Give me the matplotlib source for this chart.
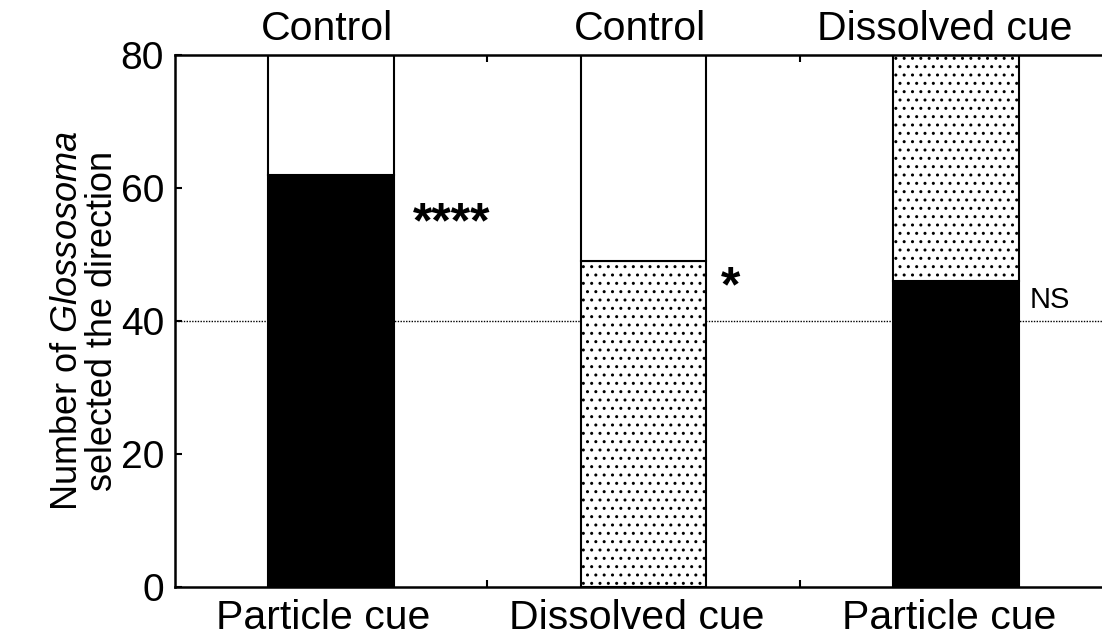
import matplotlib
matplotlib.use("Agg")
import matplotlib.pyplot as plt
import numpy as np

plt.rcParams['font.family'] = ['Liberation Sans', 'DejaVu Sans']
plt.rcParams['mathtext.fontset'] = 'custom'
plt.rcParams['mathtext.rm'] = 'Liberation Sans'
plt.rcParams['mathtext.it'] = 'Liberation Sans:italic'
plt.rcParams['hatch.linewidth'] = 1.0

bottom_labels = ["Particle cue", "Dissolved cue", "Particle cue"]
top_labels = ["Control", "Control", "Dissolved cue"]
lower_values = [62, 49, 46]
upper_values = [18, 31, 34]
lower_styles = ["black", "dots", "black"]
upper_styles = ["white", "white", "dots"]
significance = ["****", "*", "NS"]
sig_y = [54.6, 44.9, 43.2]
sig_x_offset = [0.387, 0.28, 0.30]
top_offset = [-0.012, -0.012, -0.035]
bottom_offset = [-0.025, -0.022, -0.02]
reference_line = 40

fig = plt.figure(figsize=(11.02, 6.36), dpi=100)
ax = fig.add_axes([175/1102, 49/636, 937/1102, 532/636])

x = np.arange(len(bottom_labels))
width = 0.403

def style(s):
    if s == "black":
        return dict(color="black", edgecolor="black")
    if s == "dots":
        return dict(color="white", edgecolor="black", hatch="..")
    return dict(color="white", edgecolor="black")

ax.axhline(reference_line, color="black", linestyle=(0, (1, 1)), linewidth=1.0, zorder=1)

for i in range(len(x)):
    ax.bar(x[i], lower_values[i], width, linewidth=1.5, zorder=2, **style(lower_styles[i]))
    ax.bar(x[i], upper_values[i], width, bottom=lower_values[i], linewidth=1.5, zorder=2,
           **style(upper_styles[i]))

ax.set_xlim(-0.5, 2.5)
ax.set_ylim(0, 80)
ax.set_yticks([0, 20, 40, 60, 80])
ax.set_xticks([0.5, 1.5])
ax.set_xticklabels([])
ax.tick_params(axis='both', direction='in', length=5, width=1.5, labelsize=28, top=True, right=False)
ax.tick_params(axis='y', pad=8)
for sp in ax.spines.values():
    sp.set_linewidth(1.8)
ax.spines['right'].set_visible(False)

for i in range(len(x)):
    ax.text(x[i] + bottom_offset[i], -0.022, bottom_labels[i], transform=ax.get_xaxis_transform(),
            ha='center', va='top', fontsize=29.5)
    ax.text(x[i] + top_offset[i], 1.014, top_labels[i], transform=ax.get_xaxis_transform(),
            ha='center', va='bottom', fontsize=29.5)

for i, s in enumerate(significance):
    if s == "NS":
        ax.text(x[i] + sig_x_offset[i], sig_y[i], s, ha='center', va='center', fontsize=21)
    else:
        ax.text(x[i] + sig_x_offset[i], sig_y[i], s, ha='center', va='center',
                fontsize=36, fontweight='bold')

fig.text(120/1102, 315/636, "Number of $\\it{Glossosoma}$\nselected the direction",
         rotation=90, ha='right', va='center', fontsize=26, linespacing=1.0,
         multialignment='center')

fig.savefig("out.png", dpi=100)
